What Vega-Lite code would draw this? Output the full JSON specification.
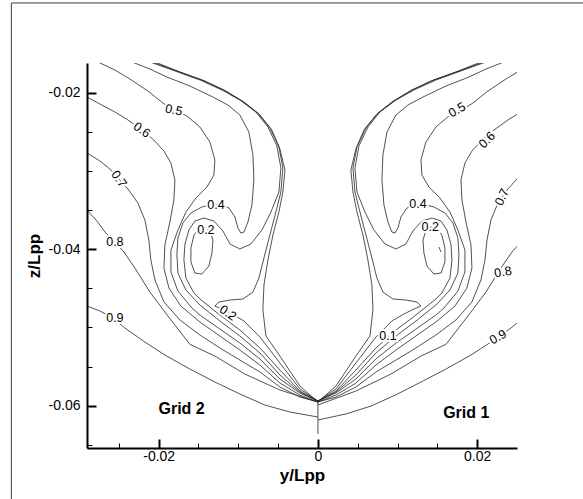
{
"$schema":"https://vega.github.io/schema/vega-lite/v6.json",
"width":430,"height":385,
"autosize":"none",
"padding":{"left":87,"top":63,"right":66,"bottom":51},
"background":"white",
"config":{"view":{"stroke":null},"font":"Liberation Sans"},
"datasets":{
"frame":[{"y":-0.0385,"y2":0.0354,"z":-0.00853,"z2":-0.0746}],
"grids":[{"t":"Grid 2","y":-0.01712,"z":-0.06042},{"t":"Grid 1","y":0.01863,"z":-0.06093}],
"labels":[
{"id":"L5","t":"0.5","y":-0.01809,"z":-0.02221},
{"id":"L6","t":"0.6","y":-0.02211,"z":-0.02476},
{"id":"L7","t":"0.7","y":-0.02499,"z":-0.03102},
{"id":"L8","t":"0.8","y":-0.0255,"z":-0.03908},
{"id":"L9","t":"0.9","y":-0.0255,"z":-0.04879},
{"id":"L4","t":"0.4","y":-0.01281,"z":-0.03435},
{"id":"L2a","t":"0.2","y":-0.01407,"z":-0.03754},
{"id":"L2b","t":"0.2","y":-0.0113,"z":-0.04815},
{"id":"R5","t":"0.5","y":0.01746,"z":-0.02221},
{"id":"R6","t":"0.6","y":0.02123,"z":-0.02604},
{"id":"R7","t":"0.7","y":0.02311,"z":-0.03333},
{"id":"R8","t":"0.8","y":0.02324,"z":-0.04291},
{"id":"R9","t":"0.9","y":0.02261,"z":-0.05122},
{"id":"R4","t":"0.4","y":0.01256,"z":-0.03422},
{"id":"R2a","t":"0.2","y":0.0141,"z":-0.0372},
{"id":"R1","t":"0.1","y":0.00879,"z":-0.05109}
],
"lines":[
{"c":"9L","i":0,"y":-0.029,"z":-0.04726},{"c":"9L","i":1,"y":-0.02738,"z":-0.04789},{"c":"9L","i":2,"y":-0.02575,"z":-0.04879},{"c":"9L","i":3,"y":-0.02424,"z":-0.05007},{"c":"9L","i":4,"y":-0.02173,"z":-0.05186},{"c":"9L","i":5,"y":-0.01922,"z":-0.05352},{"c":"9L","i":6,"y":-0.01608,"z":-0.05531},{"c":"9L","i":7,"y":-0.01294,"z":-0.05697},{"c":"9L","i":8,"y":-0.0098,"z":-0.0585},{"c":"9L","i":9,"y":-0.00666,"z":-0.05991},{"c":"9L","i":10,"y":-0.00352,"z":-0.0608},{"c":"9L","i":11,"y":0,"z":-0.06144},
{"c":"9R","i":0,"y":0.029,"z":-0.04726},{"c":"9R","i":1,"y":0.02738,"z":-0.04789},{"c":"9R","i":2,"y":0.02575,"z":-0.04879},{"c":"9R","i":3,"y":0.02424,"z":-0.05007},{"c":"9R","i":4,"y":0.02173,"z":-0.05186},{"c":"9R","i":5,"y":0.01922,"z":-0.05352},{"c":"9R","i":6,"y":0.01608,"z":-0.05531},{"c":"9R","i":7,"y":0.01294,"z":-0.05697},{"c":"9R","i":8,"y":0.0098,"z":-0.0586},{"c":"9R","i":9,"y":0.00666,"z":-0.06004},{"c":"9R","i":10,"y":0.00352,"z":-0.06105},{"c":"9R","i":11,"y":0,"z":-0.06182},
{"c":"8L","i":0,"y":-0.029,"z":-0.03499},{"c":"8L","i":1,"y":-0.02776,"z":-0.03639},{"c":"8L","i":2,"y":-0.02663,"z":-0.03793},{"c":"8L","i":3,"y":-0.0255,"z":-0.03908},{"c":"8L","i":4,"y":-0.02437,"z":-0.04035},{"c":"8L","i":5,"y":-0.02298,"z":-0.0424},{"c":"8L","i":6,"y":-0.0211,"z":-0.04547},{"c":"8L","i":7,"y":-0.01884,"z":-0.04853},{"c":"8L","i":8,"y":-0.01608,"z":-0.05215},{"c":"8L","i":9,"y":-0.01294,"z":-0.05365},{"c":"8L","i":10,"y":-0.00917,"z":-0.05595},{"c":"8L","i":11,"y":-0.00477,"z":-0.05799},{"c":"8L","i":12,"y":0,"z":-0.05952},
{"c":"8R","i":0,"y":0.029,"z":-0.03499},{"c":"8R","i":1,"y":0.02776,"z":-0.03639},{"c":"8R","i":2,"y":0.02663,"z":-0.03793},{"c":"8R","i":3,"y":0.0255,"z":-0.03908},{"c":"8R","i":4,"y":0.02437,"z":-0.04035},{"c":"8R","i":5,"y":0.02298,"z":-0.0424},{"c":"8R","i":6,"y":0.0211,"z":-0.04547},{"c":"8R","i":7,"y":0.01884,"z":-0.04853},{"c":"8R","i":8,"y":0.01608,"z":-0.05215},{"c":"8R","i":9,"y":0.01294,"z":-0.05365},{"c":"8R","i":10,"y":0.00917,"z":-0.05595},{"c":"8R","i":11,"y":0.00477,"z":-0.05812},{"c":"8R","i":12,"y":0,"z":-0.0599},
{"c":"7L","i":0,"y":-0.029,"z":-0.0277},{"c":"7L","i":1,"y":-0.02738,"z":-0.02872},{"c":"7L","i":2,"y":-0.02612,"z":-0.02975},{"c":"7L","i":3,"y":-0.02499,"z":-0.03102},{"c":"7L","i":4,"y":-0.02386,"z":-0.0323},{"c":"7L","i":5,"y":-0.02261,"z":-0.03409},{"c":"7L","i":6,"y":-0.02173,"z":-0.03626},{"c":"7L","i":7,"y":-0.02123,"z":-0.03882},{"c":"7L","i":8,"y":-0.02098,"z":-0.04138},{"c":"7L","i":9,"y":-0.02047,"z":-0.04393},{"c":"7L","i":10,"y":-0.01934,"z":-0.04674},{"c":"7L","i":11,"y":-0.01733,"z":-0.04904},{"c":"7L","i":12,"y":-0.01482,"z":-0.05096},{"c":"7L","i":13,"y":-0.01231,"z":-0.05262},{"c":"7L","i":14,"y":-0.0098,"z":-0.05416},{"c":"7L","i":15,"y":-0.00728,"z":-0.05569},{"c":"7L","i":16,"y":-0.00477,"z":-0.05761},{"c":"7L","i":17,"y":-0.00226,"z":-0.05889},{"c":"7L","i":18,"y":0,"z":-0.05952},
{"c":"7R","i":0,"y":0.029,"z":-0.0277},{"c":"7R","i":1,"y":0.02738,"z":-0.02872},{"c":"7R","i":2,"y":0.02612,"z":-0.02975},{"c":"7R","i":3,"y":0.02499,"z":-0.03102},{"c":"7R","i":4,"y":0.02386,"z":-0.0323},{"c":"7R","i":5,"y":0.02261,"z":-0.03409},{"c":"7R","i":6,"y":0.02173,"z":-0.03626},{"c":"7R","i":7,"y":0.02123,"z":-0.03882},{"c":"7R","i":8,"y":0.02098,"z":-0.04138},{"c":"7R","i":9,"y":0.02047,"z":-0.04393},{"c":"7R","i":10,"y":0.01934,"z":-0.04674},{"c":"7R","i":11,"y":0.01733,"z":-0.04904},{"c":"7R","i":12,"y":0.01482,"z":-0.05096},{"c":"7R","i":13,"y":0.01231,"z":-0.05262},{"c":"7R","i":14,"y":0.0098,"z":-0.05416},{"c":"7R","i":15,"y":0.00728,"z":-0.05569},{"c":"7R","i":16,"y":0.00477,"z":-0.05761},{"c":"7R","i":17,"y":0.00226,"z":-0.05889},{"c":"7R","i":18,"y":0,"z":-0.05952},
{"c":"6L","i":0,"y":-0.029,"z":-0.02055},{"c":"6L","i":1,"y":-0.02738,"z":-0.02144},{"c":"6L","i":2,"y":-0.0255,"z":-0.02246},{"c":"6L","i":3,"y":-0.02386,"z":-0.02348},{"c":"6L","i":4,"y":-0.02211,"z":-0.02476},{"c":"6L","i":5,"y":-0.0206,"z":-0.02604},{"c":"6L","i":6,"y":-0.01934,"z":-0.02745},{"c":"6L","i":7,"y":-0.01846,"z":-0.02898},{"c":"6L","i":8,"y":-0.01796,"z":-0.03115},{"c":"6L","i":9,"y":-0.01809,"z":-0.03371},{"c":"6L","i":10,"y":-0.01859,"z":-0.03652},{"c":"6L","i":11,"y":-0.01922,"z":-0.03946},{"c":"6L","i":12,"y":-0.01934,"z":-0.0424},{"c":"6L","i":13,"y":-0.01871,"z":-0.04496},{"c":"6L","i":14,"y":-0.01721,"z":-0.04726},{"c":"6L","i":15,"y":-0.01482,"z":-0.0493},{"c":"6L","i":16,"y":-0.01231,"z":-0.05109},{"c":"6L","i":17,"y":-0.0098,"z":-0.05288},{"c":"6L","i":18,"y":-0.00728,"z":-0.0548},{"c":"6L","i":19,"y":-0.00477,"z":-0.0571},{"c":"6L","i":20,"y":-0.00226,"z":-0.05863},{"c":"6L","i":21,"y":0,"z":-0.05952},
{"c":"6R","i":0,"y":0.029,"z":-0.02055},{"c":"6R","i":1,"y":0.02738,"z":-0.02144},{"c":"6R","i":2,"y":0.0255,"z":-0.02246},{"c":"6R","i":3,"y":0.02386,"z":-0.02348},{"c":"6R","i":4,"y":0.02211,"z":-0.02476},{"c":"6R","i":5,"y":0.0206,"z":-0.02604},{"c":"6R","i":6,"y":0.01934,"z":-0.02745},{"c":"6R","i":7,"y":0.01846,"z":-0.02898},{"c":"6R","i":8,"y":0.01796,"z":-0.03115},{"c":"6R","i":9,"y":0.01809,"z":-0.03371},{"c":"6R","i":10,"y":0.01859,"z":-0.03652},{"c":"6R","i":11,"y":0.01922,"z":-0.03946},{"c":"6R","i":12,"y":0.01934,"z":-0.0424},{"c":"6R","i":13,"y":0.01871,"z":-0.04496},{"c":"6R","i":14,"y":0.01721,"z":-0.04726},{"c":"6R","i":15,"y":0.01482,"z":-0.0493},{"c":"6R","i":16,"y":0.01231,"z":-0.05109},{"c":"6R","i":17,"y":0.0098,"z":-0.05288},{"c":"6R","i":18,"y":0.00728,"z":-0.0548},{"c":"6R","i":19,"y":0.00477,"z":-0.0571},{"c":"6R","i":20,"y":0.00226,"z":-0.05863},{"c":"6R","i":21,"y":0,"z":-0.05952},
{"c":"5L","i":0,"y":-0.02763,"z":-0.01607},{"c":"5L","i":1,"y":-0.0255,"z":-0.01709},{"c":"5L","i":2,"y":-0.02361,"z":-0.01825},{"c":"5L","i":3,"y":-0.02135,"z":-0.01978},{"c":"5L","i":4,"y":-0.01947,"z":-0.02131},{"c":"5L","i":5,"y":-0.01809,"z":-0.02221},{"c":"5L","i":6,"y":-0.01645,"z":-0.02297},{"c":"5L","i":7,"y":-0.01482,"z":-0.02438},{"c":"5L","i":8,"y":-0.01356,"z":-0.0263},{"c":"5L","i":9,"y":-0.01294,"z":-0.0286},{"c":"5L","i":10,"y":-0.01306,"z":-0.03051},{"c":"5L","i":11,"y":-0.01394,"z":-0.03205},{"c":"5L","i":12,"y":-0.01532,"z":-0.03345},{"c":"5L","i":13,"y":-0.01658,"z":-0.03524},{"c":"5L","i":14,"y":-0.01758,"z":-0.03754},{"c":"5L","i":15,"y":-0.01846,"z":-0.0401},{"c":"5L","i":16,"y":-0.01846,"z":-0.04291},{"c":"5L","i":17,"y":-0.01758,"z":-0.04534},{"c":"5L","i":18,"y":-0.01583,"z":-0.04751},{"c":"5L","i":19,"y":-0.01482,"z":-0.04841},{"c":"5L","i":20,"y":-0.01231,"z":-0.0502},{"c":"5L","i":21,"y":-0.0098,"z":-0.05198},{"c":"5L","i":22,"y":-0.00728,"z":-0.05403},{"c":"5L","i":23,"y":-0.00477,"z":-0.05659},{"c":"5L","i":24,"y":-0.00226,"z":-0.05837},{"c":"5L","i":25,"y":0,"z":-0.0594},
{"c":"5R","i":0,"y":0.02763,"z":-0.01607},{"c":"5R","i":1,"y":0.0255,"z":-0.01709},{"c":"5R","i":2,"y":0.02361,"z":-0.01825},{"c":"5R","i":3,"y":0.02135,"z":-0.01978},{"c":"5R","i":4,"y":0.01947,"z":-0.02131},{"c":"5R","i":5,"y":0.01809,"z":-0.02221},{"c":"5R","i":6,"y":0.01645,"z":-0.02297},{"c":"5R","i":7,"y":0.01482,"z":-0.02438},{"c":"5R","i":8,"y":0.01356,"z":-0.0263},{"c":"5R","i":9,"y":0.01294,"z":-0.0286},{"c":"5R","i":10,"y":0.01306,"z":-0.03051},{"c":"5R","i":11,"y":0.01394,"z":-0.03205},{"c":"5R","i":12,"y":0.01532,"z":-0.03345},{"c":"5R","i":13,"y":0.01658,"z":-0.03524},{"c":"5R","i":14,"y":0.01758,"z":-0.03754},{"c":"5R","i":15,"y":0.01846,"z":-0.0401},{"c":"5R","i":16,"y":0.01846,"z":-0.04291},{"c":"5R","i":17,"y":0.01758,"z":-0.04534},{"c":"5R","i":18,"y":0.01583,"z":-0.04751},{"c":"5R","i":19,"y":0.01482,"z":-0.04841},{"c":"5R","i":20,"y":0.01231,"z":-0.0502},{"c":"5R","i":21,"y":0.0098,"z":-0.05198},{"c":"5R","i":22,"y":0.00728,"z":-0.05403},{"c":"5R","i":23,"y":0.00477,"z":-0.05659},{"c":"5R","i":24,"y":0.00226,"z":-0.05837},{"c":"5R","i":25,"y":0,"z":-0.0594},
{"c":"4L","i":0,"y":-0.02336,"z":-0.01607},{"c":"4L","i":1,"y":-0.0211,"z":-0.01697},{"c":"4L","i":2,"y":-0.01897,"z":-0.01799},{"c":"4L","i":3,"y":-0.01608,"z":-0.01914},{"c":"4L","i":4,"y":-0.01319,"z":-0.02055},{"c":"4L","i":5,"y":-0.0113,"z":-0.02157},{"c":"4L","i":6,"y":-0.0098,"z":-0.02285},{"c":"4L","i":7,"y":-0.00867,"z":-0.02502},{"c":"4L","i":8,"y":-0.00816,"z":-0.02796},{"c":"4L","i":9,"y":-0.00804,"z":-0.03115},{"c":"4L","i":10,"y":-0.00829,"z":-0.03435},{"c":"4L","i":11,"y":-0.00879,"z":-0.03652},{"c":"4L","i":12,"y":-0.00929,"z":-0.0378},{"c":"4L","i":13,"y":-0.00967,"z":-0.03793},{"c":"4L","i":14,"y":-0.01005,"z":-0.03729},{"c":"4L","i":15,"y":-0.01042,"z":-0.03588},{"c":"4L","i":16,"y":-0.01118,"z":-0.03473},{"c":"4L","i":17,"y":-0.01206,"z":-0.03435},{"c":"4L","i":18,"y":-0.01281,"z":-0.03435},{"c":"4L","i":19,"y":-0.01356,"z":-0.03435},{"c":"4L","i":20,"y":-0.01457,"z":-0.0346},{"c":"4L","i":21,"y":-0.01595,"z":-0.03537},{"c":"4L","i":22,"y":-0.01696,"z":-0.03665},{"c":"4L","i":23,"y":-0.01758,"z":-0.03857},{"c":"4L","i":24,"y":-0.01771,"z":-0.04074},{"c":"4L","i":25,"y":-0.01758,"z":-0.04304},{"c":"4L","i":26,"y":-0.01658,"z":-0.04521},{"c":"4L","i":27,"y":-0.01482,"z":-0.04713},{"c":"4L","i":28,"y":-0.01231,"z":-0.04917},{"c":"4L","i":29,"y":-0.0098,"z":-0.05109},{"c":"4L","i":30,"y":-0.00728,"z":-0.05326},{"c":"4L","i":31,"y":-0.00477,"z":-0.05607},{"c":"4L","i":32,"y":-0.00226,"z":-0.05825},{"c":"4L","i":33,"y":0,"z":-0.0594},
{"c":"4R","i":0,"y":0.02336,"z":-0.01607},{"c":"4R","i":1,"y":0.0211,"z":-0.01697},{"c":"4R","i":2,"y":0.01897,"z":-0.01799},{"c":"4R","i":3,"y":0.01608,"z":-0.01914},{"c":"4R","i":4,"y":0.01319,"z":-0.02055},{"c":"4R","i":5,"y":0.0113,"z":-0.02157},{"c":"4R","i":6,"y":0.0098,"z":-0.02285},{"c":"4R","i":7,"y":0.00867,"z":-0.02502},{"c":"4R","i":8,"y":0.00816,"z":-0.02796},{"c":"4R","i":9,"y":0.00804,"z":-0.03115},{"c":"4R","i":10,"y":0.00829,"z":-0.03435},{"c":"4R","i":11,"y":0.00879,"z":-0.03652},{"c":"4R","i":12,"y":0.00929,"z":-0.0378},{"c":"4R","i":13,"y":0.00967,"z":-0.03793},{"c":"4R","i":14,"y":0.01005,"z":-0.03729},{"c":"4R","i":15,"y":0.01042,"z":-0.03588},{"c":"4R","i":16,"y":0.01118,"z":-0.03473},{"c":"4R","i":17,"y":0.01206,"z":-0.03435},{"c":"4R","i":18,"y":0.01281,"z":-0.03435},{"c":"4R","i":19,"y":0.01356,"z":-0.03435},{"c":"4R","i":20,"y":0.01457,"z":-0.0346},{"c":"4R","i":21,"y":0.01595,"z":-0.03537},{"c":"4R","i":22,"y":0.01696,"z":-0.03665},{"c":"4R","i":23,"y":0.01758,"z":-0.03857},{"c":"4R","i":24,"y":0.01771,"z":-0.04074},{"c":"4R","i":25,"y":0.01758,"z":-0.04304},{"c":"4R","i":26,"y":0.01658,"z":-0.04521},{"c":"4R","i":27,"y":0.01482,"z":-0.04713},{"c":"4R","i":28,"y":0.01231,"z":-0.04917},{"c":"4R","i":29,"y":0.0098,"z":-0.05109},{"c":"4R","i":30,"y":0.00728,"z":-0.05326},{"c":"4R","i":31,"y":0.00477,"z":-0.05607},{"c":"4R","i":32,"y":0.00226,"z":-0.05825},{"c":"4R","i":33,"y":0,"z":-0.0594},
{"c":"3L","i":0,"y":-0.0211,"z":-0.01607},{"c":"3L","i":1,"y":-0.01796,"z":-0.01722},{"c":"3L","i":2,"y":-0.01482,"z":-0.01837},{"c":"3L","i":3,"y":-0.01206,"z":-0.01965},{"c":"3L","i":4,"y":-0.0098,"z":-0.02093},{"c":"3L","i":5,"y":-0.00779,"z":-0.02246},{"c":"3L","i":6,"y":-0.00628,"z":-0.02438},{"c":"3L","i":7,"y":-0.00515,"z":-0.02681},{"c":"3L","i":8,"y":-0.00465,"z":-0.02962},{"c":"3L","i":9,"y":-0.0049,"z":-0.03269},{"c":"3L","i":10,"y":-0.0059,"z":-0.03524},{"c":"3L","i":11,"y":-0.00703,"z":-0.03754},{"c":"3L","i":12,"y":-0.00842,"z":-0.03933},{"c":"3L","i":13,"y":-0.0098,"z":-0.03997},{"c":"3L","i":14,"y":-0.01105,"z":-0.03933},{"c":"3L","i":15,"y":-0.01193,"z":-0.03767},{"c":"3L","i":16,"y":-0.01306,"z":-0.03639},{"c":"3L","i":17,"y":-0.01432,"z":-0.03601},{"c":"3L","i":18,"y":-0.01545,"z":-0.03639},{"c":"3L","i":19,"y":-0.0162,"z":-0.03754},{"c":"3L","i":20,"y":-0.0167,"z":-0.03933},{"c":"3L","i":21,"y":-0.01683,"z":-0.04138},{"c":"3L","i":22,"y":-0.01658,"z":-0.04368},{"c":"3L","i":23,"y":-0.01557,"z":-0.04559},{"c":"3L","i":24,"y":-0.01482,"z":-0.04636},{"c":"3L","i":25,"y":-0.01231,"z":-0.04841},{"c":"3L","i":26,"y":-0.0098,"z":-0.05032},{"c":"3L","i":27,"y":-0.00728,"z":-0.05262},{"c":"3L","i":28,"y":-0.00477,"z":-0.05544},{"c":"3L","i":29,"y":-0.00226,"z":-0.05812},{"c":"3L","i":30,"y":0,"z":-0.0594},
{"c":"3R","i":0,"y":0.0211,"z":-0.01607},{"c":"3R","i":1,"y":0.01796,"z":-0.01722},{"c":"3R","i":2,"y":0.01482,"z":-0.01837},{"c":"3R","i":3,"y":0.01206,"z":-0.01965},{"c":"3R","i":4,"y":0.0098,"z":-0.02093},{"c":"3R","i":5,"y":0.00779,"z":-0.02246},{"c":"3R","i":6,"y":0.00628,"z":-0.02438},{"c":"3R","i":7,"y":0.00515,"z":-0.02681},{"c":"3R","i":8,"y":0.00465,"z":-0.02962},{"c":"3R","i":9,"y":0.0049,"z":-0.03269},{"c":"3R","i":10,"y":0.0059,"z":-0.03524},{"c":"3R","i":11,"y":0.00703,"z":-0.03754},{"c":"3R","i":12,"y":0.00842,"z":-0.03933},{"c":"3R","i":13,"y":0.0098,"z":-0.03997},{"c":"3R","i":14,"y":0.01105,"z":-0.03933},{"c":"3R","i":15,"y":0.01193,"z":-0.03767},{"c":"3R","i":16,"y":0.01306,"z":-0.03639},{"c":"3R","i":17,"y":0.01432,"z":-0.03601},{"c":"3R","i":18,"y":0.01545,"z":-0.03639},{"c":"3R","i":19,"y":0.0162,"z":-0.03754},{"c":"3R","i":20,"y":0.0167,"z":-0.03933},{"c":"3R","i":21,"y":0.01683,"z":-0.04138},{"c":"3R","i":22,"y":0.01658,"z":-0.04368},{"c":"3R","i":23,"y":0.01557,"z":-0.04559},{"c":"3R","i":24,"y":0.01482,"z":-0.04636},{"c":"3R","i":25,"y":0.01231,"z":-0.04841},{"c":"3R","i":26,"y":0.0098,"z":-0.05032},{"c":"3R","i":27,"y":0.00728,"z":-0.05262},{"c":"3R","i":28,"y":0.00477,"z":-0.05544},{"c":"3R","i":29,"y":0.00226,"z":-0.05812},{"c":"3R","i":30,"y":0,"z":-0.0594},
{"c":"cL","i":0,"y":-0.01482,"z":-0.03729},{"c":"cL","i":1,"y":-0.01557,"z":-0.03818},{"c":"cL","i":2,"y":-0.01595,"z":-0.03984},{"c":"cL","i":3,"y":-0.01595,"z":-0.04163},{"c":"cL","i":4,"y":-0.01545,"z":-0.04304},{"c":"cL","i":5,"y":-0.01457,"z":-0.04317},{"c":"cL","i":6,"y":-0.01369,"z":-0.04214},{"c":"cL","i":7,"y":-0.01331,"z":-0.04048},{"c":"cL","i":8,"y":-0.01319,"z":-0.03882},{"c":"cL","i":9,"y":-0.01356,"z":-0.03767},{"c":"cL","i":10,"y":-0.01419,"z":-0.03716},{"c":"cL","i":11,"y":-0.01482,"z":-0.03729},
{"c":"cR","i":0,"y":0.01482,"z":-0.03729},{"c":"cR","i":1,"y":0.01557,"z":-0.03818},{"c":"cR","i":2,"y":0.01595,"z":-0.03984},{"c":"cR","i":3,"y":0.01595,"z":-0.04163},{"c":"cR","i":4,"y":0.01545,"z":-0.04304},{"c":"cR","i":5,"y":0.01457,"z":-0.04317},{"c":"cR","i":6,"y":0.01369,"z":-0.04214},{"c":"cR","i":7,"y":0.01331,"z":-0.04048},{"c":"cR","i":8,"y":0.01319,"z":-0.03882},{"c":"cR","i":9,"y":0.01356,"z":-0.03767},{"c":"cR","i":10,"y":0.01419,"z":-0.03716},{"c":"cR","i":11,"y":0.01482,"z":-0.03729},
{"c":"2L","i":0,"y":-0.02085,"z":-0.01607},{"c":"2L","i":1,"y":-0.01771,"z":-0.01722},{"c":"2L","i":2,"y":-0.01457,"z":-0.01837},{"c":"2L","i":3,"y":-0.01181,"z":-0.01965},{"c":"2L","i":4,"y":-0.00955,"z":-0.02106},{"c":"2L","i":5,"y":-0.00754,"z":-0.02259},{"c":"2L","i":6,"y":-0.00603,"z":-0.02451},{"c":"2L","i":7,"y":-0.0049,"z":-0.02694},{"c":"2L","i":8,"y":-0.0044,"z":-0.02962},{"c":"2L","i":9,"y":-0.00465,"z":-0.03269},{"c":"2L","i":10,"y":-0.00528,"z":-0.03524},{"c":"2L","i":11,"y":-0.00603,"z":-0.03818},{"c":"2L","i":12,"y":-0.00678,"z":-0.04112},{"c":"2L","i":13,"y":-0.00741,"z":-0.04368},{"c":"2L","i":14,"y":-0.00816,"z":-0.04547},{"c":"2L","i":15,"y":-0.00942,"z":-0.04636},{"c":"2L","i":16,"y":-0.01105,"z":-0.04649},{"c":"2L","i":17,"y":-0.01243,"z":-0.04674},{"c":"2L","i":18,"y":-0.01294,"z":-0.04726},{"c":"2L","i":19,"y":-0.01206,"z":-0.04764},{"c":"2L","i":20,"y":-0.0108,"z":-0.04828},{"c":"2L","i":21,"y":-0.00929,"z":-0.04917},{"c":"2L","i":22,"y":-0.00728,"z":-0.05122},{"c":"2L","i":23,"y":-0.00477,"z":-0.05454},{"c":"2L","i":24,"y":-0.00226,"z":-0.05786},{"c":"2L","i":25,"y":0,"z":-0.0594},
{"c":"2R","i":0,"y":0.02085,"z":-0.01607},{"c":"2R","i":1,"y":0.01771,"z":-0.01722},{"c":"2R","i":2,"y":0.01457,"z":-0.01837},{"c":"2R","i":3,"y":0.01181,"z":-0.01965},{"c":"2R","i":4,"y":0.00955,"z":-0.02106},{"c":"2R","i":5,"y":0.00754,"z":-0.02259},{"c":"2R","i":6,"y":0.00603,"z":-0.02451},{"c":"2R","i":7,"y":0.0049,"z":-0.02694},{"c":"2R","i":8,"y":0.0044,"z":-0.02962},{"c":"2R","i":9,"y":0.00465,"z":-0.03269},{"c":"2R","i":10,"y":0.00528,"z":-0.03524},{"c":"2R","i":11,"y":0.00603,"z":-0.03818},{"c":"2R","i":12,"y":0.00678,"z":-0.04112},{"c":"2R","i":13,"y":0.00741,"z":-0.04368},{"c":"2R","i":14,"y":0.00816,"z":-0.04547},{"c":"2R","i":15,"y":0.00942,"z":-0.04636},{"c":"2R","i":16,"y":0.01105,"z":-0.04649},{"c":"2R","i":17,"y":0.01243,"z":-0.04674},{"c":"2R","i":18,"y":0.01294,"z":-0.04726},{"c":"2R","i":19,"y":0.01206,"z":-0.04764},{"c":"2R","i":20,"y":0.0108,"z":-0.04828},{"c":"2R","i":21,"y":0.00929,"z":-0.04917},{"c":"2R","i":22,"y":0.00728,"z":-0.05122},{"c":"2R","i":23,"y":0.00477,"z":-0.05454},{"c":"2R","i":24,"y":0.00226,"z":-0.05786},{"c":"2R","i":25,"y":0,"z":-0.0594},
{"c":"1L","i":0,"y":-0.02047,"z":-0.01607},{"c":"1L","i":1,"y":-0.01733,"z":-0.01735},{"c":"1L","i":2,"y":-0.01419,"z":-0.0185},{"c":"1L","i":3,"y":-0.01156,"z":-0.01978},{"c":"1L","i":4,"y":-0.00929,"z":-0.02118},{"c":"1L","i":5,"y":-0.00728,"z":-0.02285},{"c":"1L","i":6,"y":-0.00578,"z":-0.02476},{"c":"1L","i":7,"y":-0.00477,"z":-0.02719},{"c":"1L","i":8,"y":-0.00414,"z":-0.02987},{"c":"1L","i":9,"y":-0.0044,"z":-0.03269},{"c":"1L","i":10,"y":-0.0049,"z":-0.03524},{"c":"1L","i":11,"y":-0.00565,"z":-0.03818},{"c":"1L","i":12,"y":-0.00628,"z":-0.04138},{"c":"1L","i":13,"y":-0.00678,"z":-0.04457},{"c":"1L","i":14,"y":-0.00691,"z":-0.04777},{"c":"1L","i":15,"y":-0.00653,"z":-0.05109},{"c":"1L","i":16,"y":-0.00477,"z":-0.05365},{"c":"1L","i":17,"y":-0.00226,"z":-0.05748},{"c":"1L","i":18,"y":0,"z":-0.05952},
{"c":"1R","i":0,"y":0.02047,"z":-0.01607},{"c":"1R","i":1,"y":0.01733,"z":-0.01735},{"c":"1R","i":2,"y":0.01419,"z":-0.0185},{"c":"1R","i":3,"y":0.01156,"z":-0.01978},{"c":"1R","i":4,"y":0.00929,"z":-0.02118},{"c":"1R","i":5,"y":0.00728,"z":-0.02285},{"c":"1R","i":6,"y":0.00578,"z":-0.02476},{"c":"1R","i":7,"y":0.00477,"z":-0.02719},{"c":"1R","i":8,"y":0.00414,"z":-0.02987},{"c":"1R","i":9,"y":0.0044,"z":-0.03269},{"c":"1R","i":10,"y":0.0049,"z":-0.03524},{"c":"1R","i":11,"y":0.00565,"z":-0.03818},{"c":"1R","i":12,"y":0.00628,"z":-0.04138},{"c":"1R","i":13,"y":0.00678,"z":-0.04457},{"c":"1R","i":14,"y":0.00691,"z":-0.04777},{"c":"1R","i":15,"y":0.00653,"z":-0.05109},{"c":"1R","i":16,"y":0.00477,"z":-0.05365},{"c":"1R","i":17,"y":0.00226,"z":-0.05748},{"c":"1R","i":18,"y":0,"z":-0.05952},
{"c":"tR","i":0,"y":0.0152,"z":-0.03972},{"c":"tR","i":1,"y":0.01545,"z":-0.04035},
{"c":"k","i":0,"y":0,"z":-0.05952},{"c":"k","i":1,"y":0,"z":-0.06361}
]},
"encoding":{
"x":{"field":"y","type":"quantitative","scale":{"domain":[-0.029,0.025],"nice":false,"zero":false},
"axis":{"title":"y/Lpp","values":[-0.025,-0.02,-0.015,-0.01,-0.005,0,0.005,0.01,0.015,0.02],
"labelExpr":"round(datum.value*1000)==-20?'-0.02':round(datum.value*1000)==0?'0':round(datum.value*1000)==20?'0.02':''",
"grid":false,"domainColor":"black","domainWidth":2,"tickColor":"black",
"tickWidth":{"condition":{"test":"round(datum.value*1000)%20==0","value":2},"value":1},
"tickSize":{"condition":{"test":"round(datum.value*1000)%20==0","value":-9},"value":-5},
"labelPadding":10,"labelFontSize":14,"labelColor":"black","labelFont":"Liberation Sans","labelFlush":false,"labelOverlap":false,
"titleFont":"Liberation Sans","titleFontSize":17,"titleFontWeight":"bold","titleColor":"black","titlePadding":0,"zindex":1}},
"y":{"field":"z","type":"quantitative","scale":{"domain":[-0.0654,-0.0162],"nice":false,"zero":false},
"axis":{"title":"z/Lpp","values":[-0.065,-0.06,-0.055,-0.05,-0.045,-0.04,-0.035,-0.03,-0.025,-0.02],
"labelExpr":"round(datum.value*1000)==-20?'-0.02':round(datum.value*1000)==-40?'-0.04':round(datum.value*1000)==-60?'-0.06':''",
"grid":false,"domainColor":"black","domainWidth":2,"tickColor":"black",
"tickWidth":{"condition":{"test":"round(datum.value*1000)%20==0","value":2},"value":1},
"tickSize":{"condition":{"test":"round(datum.value*1000)%20==0","value":-9},"value":-5},
"labelPadding":16,"labelFontSize":14,"labelColor":"black","labelFont":"Liberation Sans","labelFlush":false,"labelOverlap":false,
"titleFont":"Liberation Sans","titleFontSize":17,"titleFontWeight":"bold","titleColor":"black","titlePadding":5,"zindex":1}}
},
"layer":[
{"data":{"name":"frame"},"mark":{"type":"rect","filled":false,"color":"#3c3c3c","strokeWidth":1,"clip":false},
 "encoding":{"x2":{"field":"y2"},"y2":{"field":"z2"}}},
{"data":{"name":"lines"},"mark":{"type":"line","color":"#262626","strokeWidth":0.8,"clip":true},
 "encoding":{"detail":{"field":"c"},"order":{"field":"i","type":"quantitative"}}},
{"data":{"name":"labels"},"transform":[{"filter":{"field":"id","oneOf":["L8","L9","L4","L2a","R4","R2a","R1"]}}],"encoding":{"text":{"field":"t"}},
 "layer":[{"mark":{"type":"text","fill":"white","stroke":"white","strokeWidth":4,"fontSize":12.5}},{"mark":{"type":"text","fill":"black","fontSize":12.5}}]},
{"data":{"name":"labels"},"transform":[{"filter":{"field":"id","oneOf":["L5"]}}],"encoding":{"text":{"field":"t"}},
 "layer":[{"mark":{"type":"text","angle":12,"fill":"white","stroke":"white","strokeWidth":4,"fontSize":12.5}},{"mark":{"type":"text","angle":12,"fill":"black","fontSize":12.5}}]},
{"data":{"name":"labels"},"transform":[{"filter":{"field":"id","oneOf":["L6","L2b"]}}],"encoding":{"text":{"field":"t"}},
 "layer":[{"mark":{"type":"text","angle":35,"fill":"white","stroke":"white","strokeWidth":4,"fontSize":12.5}},{"mark":{"type":"text","angle":35,"fill":"black","fontSize":12.5}}]},
{"data":{"name":"labels"},"transform":[{"filter":{"field":"id","oneOf":["L7"]}}],"encoding":{"text":{"field":"t"}},
 "layer":[{"mark":{"type":"text","angle":55,"fill":"white","stroke":"white","strokeWidth":4,"fontSize":12.5}},{"mark":{"type":"text","angle":55,"fill":"black","fontSize":12.5}}]},
{"data":{"name":"labels"},"transform":[{"filter":{"field":"id","oneOf":["R5","R9"]}}],"encoding":{"text":{"field":"t"}},
 "layer":[{"mark":{"type":"text","angle":330,"fill":"white","stroke":"white","strokeWidth":4,"fontSize":12.5}},{"mark":{"type":"text","angle":330,"fill":"black","fontSize":12.5}}]},
{"data":{"name":"labels"},"transform":[{"filter":{"field":"id","oneOf":["R6"]}}],"encoding":{"text":{"field":"t"}},
 "layer":[{"mark":{"type":"text","angle":315,"fill":"white","stroke":"white","strokeWidth":4,"fontSize":12.5}},{"mark":{"type":"text","angle":315,"fill":"black","fontSize":12.5}}]},
{"data":{"name":"labels"},"transform":[{"filter":{"field":"id","oneOf":["R7"]}}],"encoding":{"text":{"field":"t"}},
 "layer":[{"mark":{"type":"text","angle":295,"fill":"white","stroke":"white","strokeWidth":4,"fontSize":12.5}},{"mark":{"type":"text","angle":295,"fill":"black","fontSize":12.5}}]},
{"data":{"name":"labels"},"transform":[{"filter":{"field":"id","oneOf":["R8"]}}],"encoding":{"text":{"field":"t"}},
 "layer":[{"mark":{"type":"text","angle":350,"fill":"white","stroke":"white","strokeWidth":4,"fontSize":12.5}},{"mark":{"type":"text","angle":350,"fill":"black","fontSize":12.5}}]},
{"data":{"name":"grids"},"mark":{"type":"text","fill":"black","fontSize":16,"fontWeight":"bold"},"encoding":{"text":{"field":"t"}}}
]
}
